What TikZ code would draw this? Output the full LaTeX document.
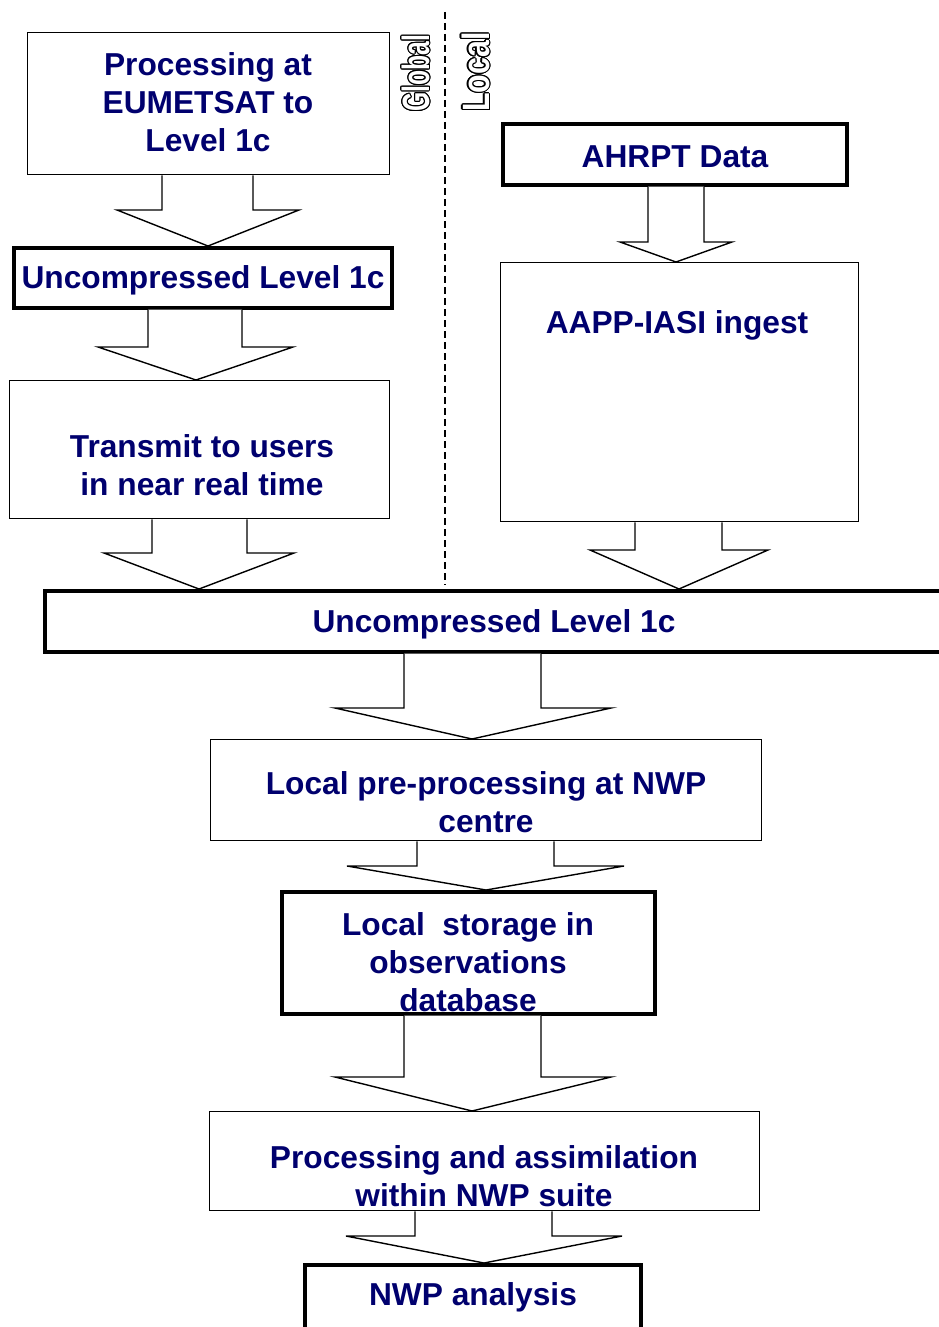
\documentclass[tikz,border=0pt]{standalone}
\usepackage{fontspec}
\setmainfont{Liberation Sans}
\newfontfamily\narrowfont{Liberation Sans}[FakeStretch=0.65]
\newfontfamily\narrowfontb{Liberation Sans}[FakeStretch=0.8]
\usepackage{contour}
\contourlength{1.1pt}
\usetikzlibrary{calc}
\definecolor{navy}{RGB}{0,0,110}
\tikzset{
  thinbox/.style={draw, line width=1.4pt, rectangle, inner sep=0pt, anchor=north west},
  thickbox/.style={draw, line width=3.6pt, rectangle, inner sep=0pt, anchor=north west},
  lbl/.style={text=navy, align=center, inner sep=0pt, font=\bfseries\fontsize{31.7}{38}\selectfont},
  fatline/.style={draw, line width=1.4pt, fill=white, line join=miter},
  sidelbl/.style={rotate=90, inner sep=0pt},
}
\newcommand\fatarrow[8]{%
  \draw[fatline] let \p1=(#1.south), \p2=(#2.north) in
    (#3,\y1) -- (#3,#7) -- (#5,#7) -- (#8,\y2) -- (#6,#7) -- (#4,#7) -- (#4,\y1);}
\begin{document}
\begin{tikzpicture}[x=1pt,y=-1pt]
\useasboundingbox (0,0) rectangle (939,1327);
% boxes
\node[thinbox, minimum width=362pt, minimum height=142pt] (b1) at (27,32) {};
\node[thickbox, minimum width=378pt, minimum height=60pt] (b2) at (12,246) {};
\node[thinbox, minimum width=380pt, minimum height=138pt] (b3) at (9,380) {};
\node[thickbox, minimum width=344pt, minimum height=61pt] (b9) at (501,122) {};
\node[thinbox, minimum width=358pt, minimum height=259pt] (b11) at (500,262) {};
\node[thickbox, minimum width=910pt, minimum height=61pt] (b13) at (43,589) {};
\node[thinbox, minimum width=551pt, minimum height=101pt] (b15) at (210,739) {};
\node[thickbox, minimum width=373pt, minimum height=122pt] (b17) at (280,890) {};
\node[thinbox, minimum width=550pt, minimum height=99pt] (b19) at (209,1111) {};
\node[thickbox, minimum width=336pt, minimum height=80pt] (b21) at (303,1263) {};
% labels
\node[lbl] (t1) at (208,102) {Processing at\\EUMETSAT to\\Level 1c};
\node[lbl] (t2) at (203,280) {Uncompressed Level 1c};
\node[lbl] (t3) at (202,465) {Transmit to users\\in near real time};
\node[lbl] (t9) at (675,157) {AHRPT Data};
\node[lbl] (t11) at (677,325) {AAPP-IASI ingest};
\node[lbl] (t13) at (494,624) {Uncompressed Level 1c};
\node[lbl] (t15) at (486,802) {Local pre-processing at NWP\\centre};
\node[lbl] (t17) at (468,962) {Local\ \ storage in\\observations\\database};
\node[lbl] (t19) at (484,1176) {Processing and assimilation\\within NWP suite};
\node[lbl] (t21) at (473,1297) {NWP analysis};
% arrows
\fatarrow{b1}{b2}{162}{253}{117}{299}{210}{208}
\fatarrow{b2}{b3}{148}{242}{98}{293}{347}{196}
\fatarrow{b3}{b13}{152}{247}{104}{294}{553}{199}
\fatarrow{b9}{b11}{648}{704}{620}{732}{242}{676}
\fatarrow{b11}{b13}{635}{722}{590}{768}{550}{679}
\fatarrow{b13}{b15}{404}{541}{335}{611}{708}{472}
\fatarrow{b15}{b17}{417}{554}{347}{624}{866}{486}
\fatarrow{b17}{b19}{404}{541}{335}{611}{1077}{472}
\fatarrow{b19}{b21}{415}{552}{346}{622}{1236}{484}
% divider
\coordinate (dtop) at (445,12);
\coordinate (dbot) at (445,585);
\draw[line width=1.4pt, dash pattern=on 7pt off 4pt] (dtop) -- (dbot);
\node[sidelbl, font=\narrowfont\bfseries\fontsize{38}{38}\selectfont] (glob) at (416,73) {\contour{black}{\textcolor{white}{Global}}};
\node[sidelbl, font=\narrowfontb\bfseries\fontsize{38}{38}\selectfont] (loc) at (476,72) {\contour{black}{\textcolor{white}{Local}}};
\end{tikzpicture}
\end{document}
